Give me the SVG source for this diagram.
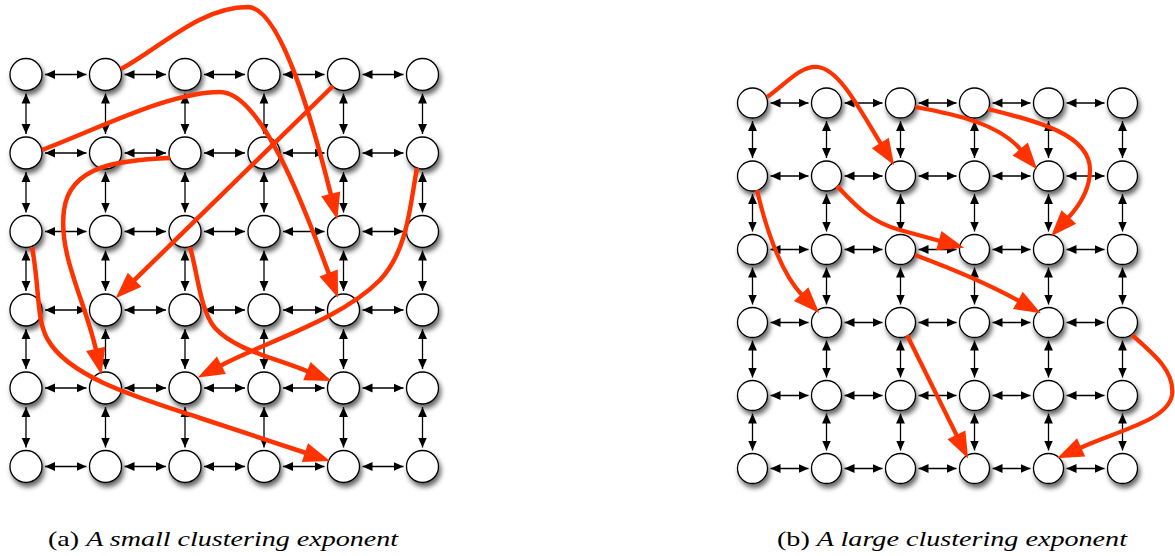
<svg xmlns="http://www.w3.org/2000/svg" width="1175" height="556" viewBox="0 0 1175 556">
<style>
.n{fill:#fff;stroke:#000;stroke-width:1.3;filter:url(#sh)}
.g line{stroke:#000;stroke-width:1.3;marker-start:url(#ba);marker-end:url(#ba)}
.ra{fill:none;stroke:#ff3300;stroke-width:4.5;marker-end:url(#rha)}
.rb{fill:none;stroke:#ff3300;stroke-width:4.2;marker-end:url(#rhb)}
.cap{font-family:"Liberation Serif","DejaVu Serif",serif;font-size:21px;fill:#000}
</style>
<defs>
<filter id="sh" x="-60%" y="-60%" width="220%" height="220%">
<feGaussianBlur in="SourceAlpha" stdDeviation="2.8"/>
<feOffset dx="1.5" dy="3.5" result="b"/>
<feFlood flood-color="#000" flood-opacity="0.6"/>
<feComposite in2="b" operator="in"/>
<feMerge><feMergeNode/><feMergeNode in="SourceGraphic"/></feMerge>
</filter>
<marker id="ba" markerUnits="userSpaceOnUse" markerWidth="10" markerHeight="10" viewBox="0 0 9 8" refX="9" refY="4" orient="auto-start-reverse"><path d="M0,0 L9,4 L0,8 z" fill="#000"/></marker>
<marker id="rha" markerUnits="userSpaceOnUse" markerWidth="30" markerHeight="30" viewBox="-2 -9 26 18" refX="0" refY="0" orient="auto" overflow="visible"><path d="M-1,-8.5 L22,0 L-1,8.5 z" fill="#ff3300"/></marker>
<marker id="rhb" markerUnits="userSpaceOnUse" markerWidth="30" markerHeight="30" viewBox="-2 -9 24 18" refX="0" refY="0" orient="auto" overflow="visible"><path d="M-1,-8 L20,0 L-1,8 z" fill="#ff3300"/></marker>
</defs>
<rect width="1175" height="556" fill="#fff"/>

<g id="connectors-a" class="g">
<line x1="45" y1="74.5" x2="86.5" y2="74.5"/><line x1="124.5" y1="74.5" x2="166" y2="74.5"/><line x1="204" y1="74.5" x2="245" y2="74.5"/><line x1="283" y1="74.5" x2="324.5" y2="74.5"/><line x1="362.5" y1="74.5" x2="403.5" y2="74.5"/>
<line x1="45" y1="153" x2="86.5" y2="153"/><line x1="124.5" y1="153" x2="166" y2="153"/><line x1="204" y1="153" x2="245" y2="153"/><line x1="283" y1="153" x2="324.5" y2="153"/><line x1="362.5" y1="153" x2="403.5" y2="153"/>
<line x1="45" y1="231.5" x2="86.5" y2="231.5"/><line x1="124.5" y1="231.5" x2="166" y2="231.5"/><line x1="204" y1="231.5" x2="245" y2="231.5"/><line x1="283" y1="231.5" x2="324.5" y2="231.5"/><line x1="362.5" y1="231.5" x2="403.5" y2="231.5"/>
<line x1="45" y1="310" x2="86.5" y2="310"/><line x1="124.5" y1="310" x2="166" y2="310"/><line x1="204" y1="310" x2="245" y2="310"/><line x1="283" y1="310" x2="324.5" y2="310"/><line x1="362.5" y1="310" x2="403.5" y2="310"/>
<line x1="45" y1="388" x2="86.5" y2="388"/><line x1="124.5" y1="388" x2="166" y2="388"/><line x1="204" y1="388" x2="245" y2="388"/><line x1="283" y1="388" x2="324.5" y2="388"/><line x1="362.5" y1="388" x2="403.5" y2="388"/>
<line x1="45" y1="466.5" x2="86.5" y2="466.5"/><line x1="124.5" y1="466.5" x2="166" y2="466.5"/><line x1="204" y1="466.5" x2="245" y2="466.5"/><line x1="283" y1="466.5" x2="324.5" y2="466.5"/><line x1="362.5" y1="466.5" x2="403.5" y2="466.5"/>
<line x1="26" y1="93.5" x2="26" y2="134"/><line x1="26" y1="172" x2="26" y2="212.5"/><line x1="26" y1="250.5" x2="26" y2="291"/><line x1="26" y1="329" x2="26" y2="369"/><line x1="26" y1="407" x2="26" y2="447.5"/>
<line x1="105.5" y1="93.5" x2="105.5" y2="134"/><line x1="105.5" y1="172" x2="105.5" y2="212.5"/><line x1="105.5" y1="250.5" x2="105.5" y2="291"/><line x1="105.5" y1="329" x2="105.5" y2="369"/><line x1="105.5" y1="407" x2="105.5" y2="447.5"/>
<line x1="185" y1="93.5" x2="185" y2="134"/><line x1="185" y1="172" x2="185" y2="212.5"/><line x1="185" y1="250.5" x2="185" y2="291"/><line x1="185" y1="329" x2="185" y2="369"/><line x1="185" y1="407" x2="185" y2="447.5"/>
<line x1="264" y1="93.5" x2="264" y2="134"/><line x1="264" y1="172" x2="264" y2="212.5"/><line x1="264" y1="250.5" x2="264" y2="291"/><line x1="264" y1="329" x2="264" y2="369"/><line x1="264" y1="407" x2="264" y2="447.5"/>
<line x1="343.5" y1="93.5" x2="343.5" y2="134"/><line x1="343.5" y1="172" x2="343.5" y2="212.5"/><line x1="343.5" y1="250.5" x2="343.5" y2="291"/><line x1="343.5" y1="329" x2="343.5" y2="369"/><line x1="343.5" y1="407" x2="343.5" y2="447.5"/>
<line x1="422.5" y1="93.5" x2="422.5" y2="134"/><line x1="422.5" y1="172" x2="422.5" y2="212.5"/><line x1="422.5" y1="250.5" x2="422.5" y2="291"/><line x1="422.5" y1="329" x2="422.5" y2="369"/><line x1="422.5" y1="407" x2="422.5" y2="447.5"/>
</g>

<g id="connectors-b" class="g">
<line x1="770.5" y1="103" x2="808.5" y2="103"/><line x1="844.5" y1="103" x2="882.5" y2="103"/><line x1="918.5" y1="103" x2="956.5" y2="103"/><line x1="992.5" y1="103" x2="1030.5" y2="103"/><line x1="1066.5" y1="103" x2="1104.5" y2="103"/>
<line x1="770.5" y1="176" x2="808.5" y2="176"/><line x1="844.5" y1="176" x2="882.5" y2="176"/><line x1="918.5" y1="176" x2="956.5" y2="176"/><line x1="992.5" y1="176" x2="1030.5" y2="176"/><line x1="1066.5" y1="176" x2="1104.5" y2="176"/>
<line x1="770.5" y1="249.5" x2="808.5" y2="249.5"/><line x1="844.5" y1="249.5" x2="882.5" y2="249.5"/><line x1="918.5" y1="249.5" x2="956.5" y2="249.5"/><line x1="992.5" y1="249.5" x2="1030.5" y2="249.5"/><line x1="1066.5" y1="249.5" x2="1104.5" y2="249.5"/>
<line x1="770.5" y1="322.5" x2="808.5" y2="322.5"/><line x1="844.5" y1="322.5" x2="882.5" y2="322.5"/><line x1="918.5" y1="322.5" x2="956.5" y2="322.5"/><line x1="992.5" y1="322.5" x2="1030.5" y2="322.5"/><line x1="1066.5" y1="322.5" x2="1104.5" y2="322.5"/>
<line x1="770.5" y1="395.5" x2="808.5" y2="395.5"/><line x1="844.5" y1="395.5" x2="882.5" y2="395.5"/><line x1="918.5" y1="395.5" x2="956.5" y2="395.5"/><line x1="992.5" y1="395.5" x2="1030.5" y2="395.5"/><line x1="1066.5" y1="395.5" x2="1104.5" y2="395.5"/>
<line x1="770.5" y1="468.5" x2="808.5" y2="468.5"/><line x1="844.5" y1="468.5" x2="882.5" y2="468.5"/><line x1="918.5" y1="468.5" x2="956.5" y2="468.5"/><line x1="992.5" y1="468.5" x2="1030.5" y2="468.5"/><line x1="1066.5" y1="468.5" x2="1104.5" y2="468.5"/>
<line x1="752.5" y1="121" x2="752.5" y2="158"/><line x1="752.5" y1="194" x2="752.5" y2="231.5"/><line x1="752.5" y1="267.5" x2="752.5" y2="304.5"/><line x1="752.5" y1="340.5" x2="752.5" y2="377.5"/><line x1="752.5" y1="413.5" x2="752.5" y2="450.5"/>
<line x1="826.5" y1="121" x2="826.5" y2="158"/><line x1="826.5" y1="194" x2="826.5" y2="231.5"/><line x1="826.5" y1="267.5" x2="826.5" y2="304.5"/><line x1="826.5" y1="340.5" x2="826.5" y2="377.5"/><line x1="826.5" y1="413.5" x2="826.5" y2="450.5"/>
<line x1="900.5" y1="121" x2="900.5" y2="158"/><line x1="900.5" y1="194" x2="900.5" y2="231.5"/><line x1="900.5" y1="267.5" x2="900.5" y2="304.5"/><line x1="900.5" y1="340.5" x2="900.5" y2="377.5"/><line x1="900.5" y1="413.5" x2="900.5" y2="450.5"/>
<line x1="974.5" y1="121" x2="974.5" y2="158"/><line x1="974.5" y1="194" x2="974.5" y2="231.5"/><line x1="974.5" y1="267.5" x2="974.5" y2="304.5"/><line x1="974.5" y1="340.5" x2="974.5" y2="377.5"/><line x1="974.5" y1="413.5" x2="974.5" y2="450.5"/>
<line x1="1048.5" y1="121" x2="1048.5" y2="158"/><line x1="1048.5" y1="194" x2="1048.5" y2="231.5"/><line x1="1048.5" y1="267.5" x2="1048.5" y2="304.5"/><line x1="1048.5" y1="340.5" x2="1048.5" y2="377.5"/><line x1="1048.5" y1="413.5" x2="1048.5" y2="450.5"/>
<line x1="1122.5" y1="121" x2="1122.5" y2="158"/><line x1="1122.5" y1="194" x2="1122.5" y2="231.5"/><line x1="1122.5" y1="267.5" x2="1122.5" y2="304.5"/><line x1="1122.5" y1="340.5" x2="1122.5" y2="377.5"/><line x1="1122.5" y1="413.5" x2="1122.5" y2="450.5"/>
</g>

<g id="nodes-a">
<g id="a-r0c0"><circle class="n" cx="26" cy="74.5" r="16"/></g><g id="a-r0c1"><circle class="n" cx="105.5" cy="74.5" r="16"/></g><g id="a-r0c2"><circle class="n" cx="185" cy="74.5" r="16"/></g><g id="a-r0c3"><circle class="n" cx="264" cy="74.5" r="16"/></g><g id="a-r0c4"><circle class="n" cx="343.5" cy="74.5" r="16"/></g><g id="a-r0c5"><circle class="n" cx="422.5" cy="74.5" r="16"/></g>
<g id="a-r1c0"><circle class="n" cx="26" cy="153" r="16"/></g><g id="a-r1c1"><circle class="n" cx="105.5" cy="153" r="16"/></g><g id="a-r1c2"><circle class="n" cx="185" cy="153" r="16"/></g><g id="a-r1c3"><circle class="n" cx="264" cy="153" r="16"/></g><g id="a-r1c4"><circle class="n" cx="343.5" cy="153" r="16"/></g><g id="a-r1c5"><circle class="n" cx="422.5" cy="153" r="16"/></g>
<g id="a-r2c0"><circle class="n" cx="26" cy="231.5" r="16"/></g><g id="a-r2c1"><circle class="n" cx="105.5" cy="231.5" r="16"/></g><g id="a-r2c2"><circle class="n" cx="185" cy="231.5" r="16"/></g><g id="a-r2c3"><circle class="n" cx="264" cy="231.5" r="16"/></g><g id="a-r2c4"><circle class="n" cx="343.5" cy="231.5" r="16"/></g><g id="a-r2c5"><circle class="n" cx="422.5" cy="231.5" r="16"/></g>
<g id="a-r3c0"><circle class="n" cx="26" cy="310" r="16"/></g><g id="a-r3c1"><circle class="n" cx="105.5" cy="310" r="16"/></g><g id="a-r3c2"><circle class="n" cx="185" cy="310" r="16"/></g><g id="a-r3c3"><circle class="n" cx="264" cy="310" r="16"/></g><g id="a-r3c4"><circle class="n" cx="343.5" cy="310" r="16"/></g><g id="a-r3c5"><circle class="n" cx="422.5" cy="310" r="16"/></g>
<g id="a-r4c0"><circle class="n" cx="26" cy="388" r="16"/></g><g id="a-r4c1"><circle class="n" cx="105.5" cy="388" r="16"/></g><g id="a-r4c2"><circle class="n" cx="185" cy="388" r="16"/></g><g id="a-r4c3"><circle class="n" cx="264" cy="388" r="16"/></g><g id="a-r4c4"><circle class="n" cx="343.5" cy="388" r="16"/></g><g id="a-r4c5"><circle class="n" cx="422.5" cy="388" r="16"/></g>
<g id="a-r5c0"><circle class="n" cx="26" cy="466.5" r="16"/></g><g id="a-r5c1"><circle class="n" cx="105.5" cy="466.5" r="16"/></g><g id="a-r5c2"><circle class="n" cx="185" cy="466.5" r="16"/></g><g id="a-r5c3"><circle class="n" cx="264" cy="466.5" r="16"/></g><g id="a-r5c4"><circle class="n" cx="343.5" cy="466.5" r="16"/></g><g id="a-r5c5"><circle class="n" cx="422.5" cy="466.5" r="16"/></g>
</g>

<g id="nodes-b">
<g id="b-r0c0"><circle class="n" cx="752.5" cy="103" r="15"/></g><g id="b-r0c1"><circle class="n" cx="826.5" cy="103" r="15"/></g><g id="b-r0c2"><circle class="n" cx="900.5" cy="103" r="15"/></g><g id="b-r0c3"><circle class="n" cx="974.5" cy="103" r="15"/></g><g id="b-r0c4"><circle class="n" cx="1048.5" cy="103" r="15"/></g><g id="b-r0c5"><circle class="n" cx="1122.5" cy="103" r="15"/></g>
<g id="b-r1c0"><circle class="n" cx="752.5" cy="176" r="15"/></g><g id="b-r1c1"><circle class="n" cx="826.5" cy="176" r="15"/></g><g id="b-r1c2"><circle class="n" cx="900.5" cy="176" r="15"/></g><g id="b-r1c3"><circle class="n" cx="974.5" cy="176" r="15"/></g><g id="b-r1c4"><circle class="n" cx="1048.5" cy="176" r="15"/></g><g id="b-r1c5"><circle class="n" cx="1122.5" cy="176" r="15"/></g>
<g id="b-r2c0"><circle class="n" cx="752.5" cy="249.5" r="15"/></g><g id="b-r2c1"><circle class="n" cx="826.5" cy="249.5" r="15"/></g><g id="b-r2c2"><circle class="n" cx="900.5" cy="249.5" r="15"/></g><g id="b-r2c3"><circle class="n" cx="974.5" cy="249.5" r="15"/></g><g id="b-r2c4"><circle class="n" cx="1048.5" cy="249.5" r="15"/></g><g id="b-r2c5"><circle class="n" cx="1122.5" cy="249.5" r="15"/></g>
<g id="b-r3c0"><circle class="n" cx="752.5" cy="322.5" r="15"/></g><g id="b-r3c1"><circle class="n" cx="826.5" cy="322.5" r="15"/></g><g id="b-r3c2"><circle class="n" cx="900.5" cy="322.5" r="15"/></g><g id="b-r3c3"><circle class="n" cx="974.5" cy="322.5" r="15"/></g><g id="b-r3c4"><circle class="n" cx="1048.5" cy="322.5" r="15"/></g><g id="b-r3c5"><circle class="n" cx="1122.5" cy="322.5" r="15"/></g>
<g id="b-r4c0"><circle class="n" cx="752.5" cy="395.5" r="15"/></g><g id="b-r4c1"><circle class="n" cx="826.5" cy="395.5" r="15"/></g><g id="b-r4c2"><circle class="n" cx="900.5" cy="395.5" r="15"/></g><g id="b-r4c3"><circle class="n" cx="974.5" cy="395.5" r="15"/></g><g id="b-r4c4"><circle class="n" cx="1048.5" cy="395.5" r="15"/></g><g id="b-r4c5"><circle class="n" cx="1122.5" cy="395.5" r="15"/></g>
<g id="b-r5c0"><circle class="n" cx="752.5" cy="468.5" r="15"/></g><g id="b-r5c1"><circle class="n" cx="826.5" cy="468.5" r="15"/></g><g id="b-r5c2"><circle class="n" cx="900.5" cy="468.5" r="15"/></g><g id="b-r5c3"><circle class="n" cx="974.5" cy="468.5" r="15"/></g><g id="b-r5c4"><circle class="n" cx="1048.5" cy="468.5" r="15"/></g><g id="b-r5c5"><circle class="n" cx="1122.5" cy="468.5" r="15"/></g>
</g>

<g id="long-links-a">
<path class="ra" d="M121,69 C160,48 200,7 248,7 C285,8 321,156 331,195"/>
<path class="ra" d="M42,150 C100,128 170,92 220,92 C265,92 313,232 329,274"/>
<path class="ra" d="M333,86 L133.8,280.6"/>
<path class="ra" d="M170,158 C120,160 70,165 64,210 C58,255 85,300 96,350"/>
<path class="ra" d="M32,247 C40,290 36,320 48,340 C70,378 140,398 200,418 L306,453"/>
<path class="ra" d="M190,247 C198,275 200,310 215,328 C235,350 275,358 308,371.5"/>
<path class="ra" d="M417,168 C410,205 408,250 380,280 C340,320 270,340 220.4,365.7"/>
</g>

<g id="long-links-b">
<path class="rb" d="M767,97 C785,85 800,65 818,67 C840,70 860,110 881,144"/>
<path class="rb" d="M915,107 C960,115 1000,125 1021,150"/>
<path class="rb" d="M988,109 C1040,122 1090,135 1090,170 C1090,190 1080,205 1068,218"/>
<path class="rb" d="M837,186 C855,205 870,222 900,230 L940,241"/>
<path class="rb" d="M757,190 C765,225 780,272 802,295"/>
<path class="rb" d="M915,255 C950,268 985,282 1019,301"/>
<path class="rb" d="M907,335 L957,436"/>
<path class="rb" d="M1132,335 C1155,355 1175,372 1172,395 C1168,420 1120,430 1080,448"/>
</g>

<text class="cap" x="48" y="546" textLength="350" lengthAdjust="spacingAndGlyphs">(a) <tspan font-style="italic">A small clustering exponent</tspan></text>
<text class="cap" x="777" y="546" textLength="350" lengthAdjust="spacingAndGlyphs">(b) <tspan font-style="italic">A large clustering exponent</tspan></text>
</svg>
